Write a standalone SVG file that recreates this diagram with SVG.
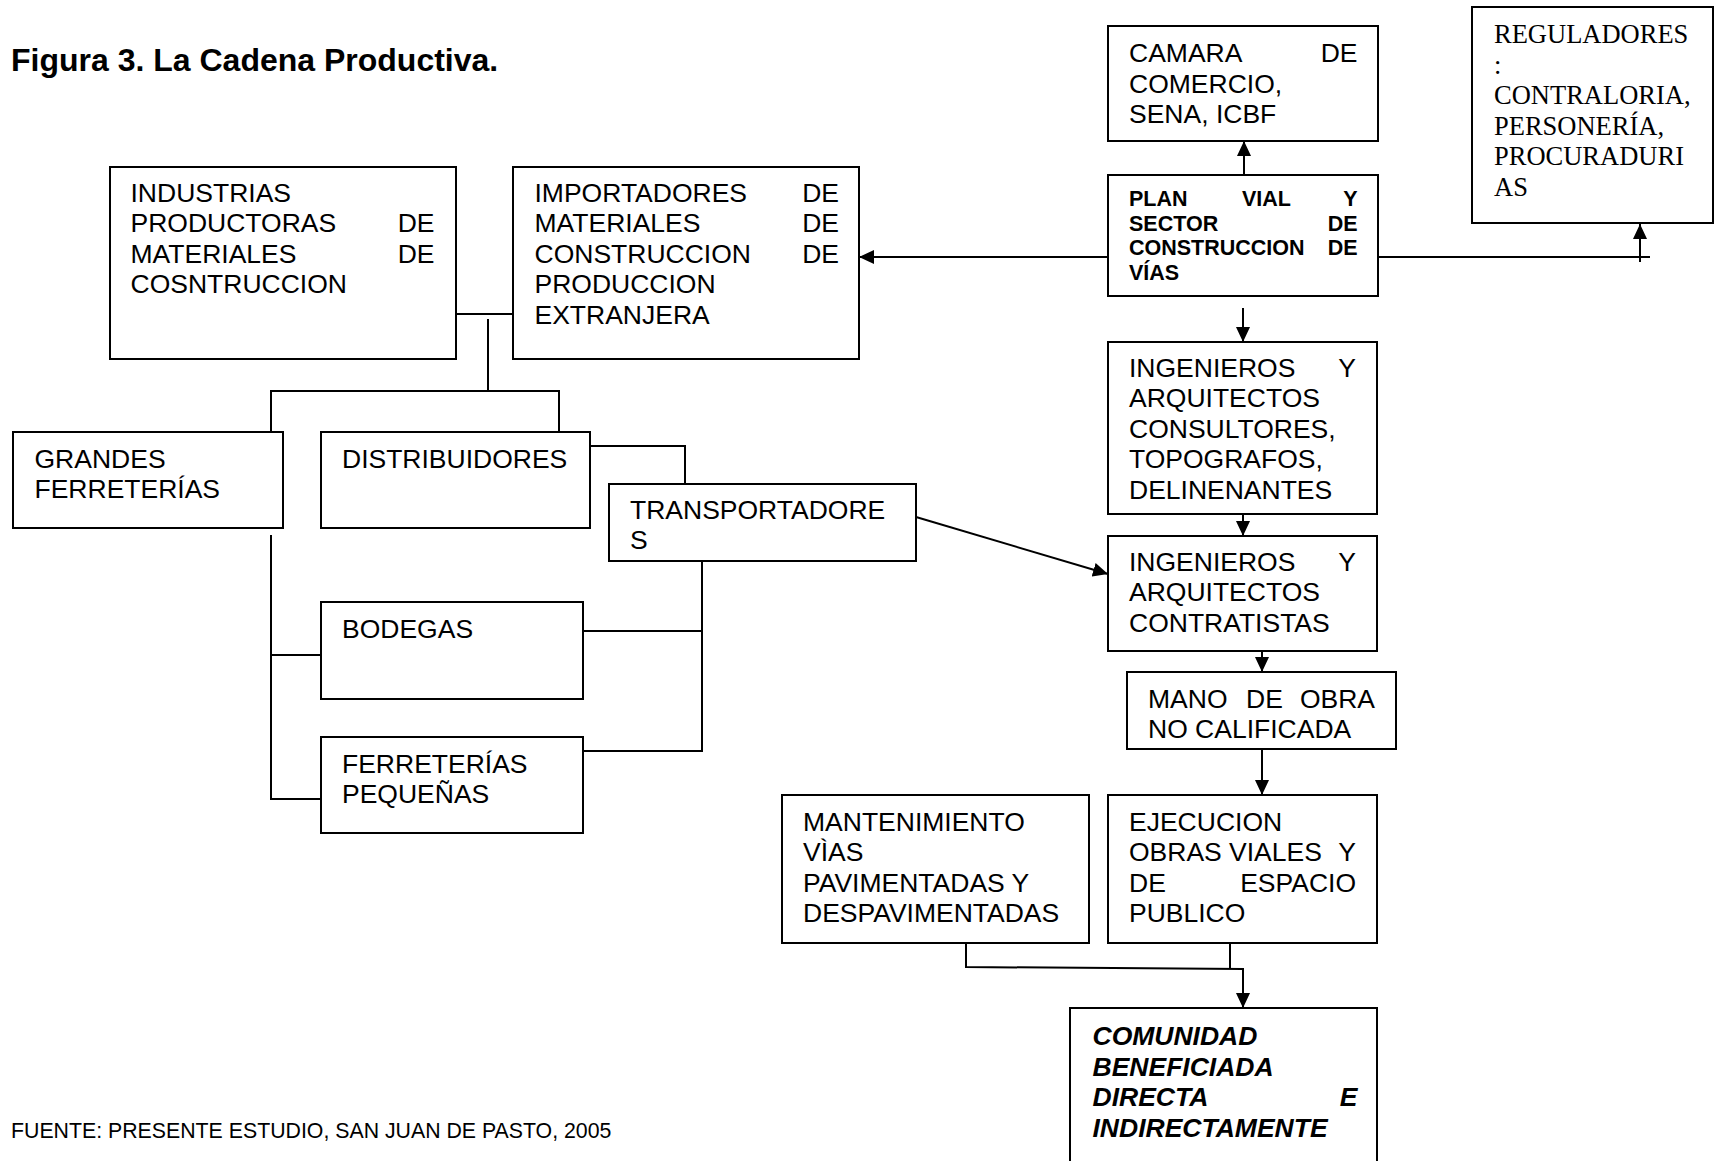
<svg xmlns="http://www.w3.org/2000/svg" width="1719" height="1161" viewBox="0 0 1719 1161">
  <style>
    .box { fill: #ffffff; stroke: #000000; stroke-width: 2; }
    .ln { fill: none; stroke: #000000; stroke-width: 2; }
    .t { font-family: "Liberation Sans", Arial, sans-serif; font-size: 26.5px; fill: #000000; }
    .tr { font-family: "Liberation Sans", Arial, sans-serif; font-size: 26.5px; fill: #000000; text-anchor: end; }
    .serif { font-family: "Liberation Serif", "Times New Roman", serif; font-size: 26.5px; fill: #000000; }
    .b { font-family: "Liberation Sans", Arial, sans-serif; font-size: 21.5px; font-weight: bold; fill: #000000; }
    .bi { font-family: "Liberation Sans", Arial, sans-serif; font-size: 26.5px; font-weight: bold; font-style: italic; fill: #000000; }
    .title { font-family: "Liberation Sans", Arial, sans-serif; font-size: 32px; font-weight: bold; fill: #000000; }
    .foot { font-family: "Liberation Sans", Arial, sans-serif; font-size: 21.3px; fill: #000000; }
  </style>
  <defs>
    <marker id="arrow" viewBox="0 0 15 14" refX="15" refY="7" markerWidth="15" markerHeight="14" markerUnits="userSpaceOnUse" orient="auto">
      <path d="M0,0 L15,7 L0,14 z" fill="#000000"/>
    </marker>
  </defs>

  <rect x="0" y="0" width="1719" height="1161" fill="#ffffff"/>

  <text class="title" x="11" y="71">Figura 3. La Cadena Productiva.</text>

  <!-- connectors -->
  <g id="connectors">
    <!-- industrias / importadores to the distribution tree -->
    <line class="ln" x1="456" y1="314" x2="513" y2="314"/>
    <line class="ln" x1="488" y1="319" x2="488" y2="391"/>
    <polyline class="ln" points="271,432 271,391 559,391 559,432"/>
    <!-- distribuidores to transportadores -->
    <polyline class="ln" points="590,446 685,446 685,484"/>
    <!-- transportadores to bodegas and ferreterias pequenas -->
    <polyline class="ln" points="702,561 702,751 583,751"/>
    <line class="ln" x1="583" y1="631" x2="702" y2="631"/>
    <!-- grandes ferreterias branch -->
    <polyline class="ln" points="271,535 271,799 321,799"/>
    <line class="ln" x1="271" y1="655" x2="321" y2="655"/>
    <!-- plan vial outward arrows -->
    <line class="ln" x1="1244" y1="175" x2="1244" y2="141" marker-end="url(#arrow)"/>
    <line class="ln" x1="1108" y1="257" x2="859" y2="257" marker-end="url(#arrow)"/>
    <line class="ln" x1="1378" y1="257" x2="1650" y2="257"/>
    <line class="ln" x1="1640" y1="262" x2="1640" y2="224" marker-end="url(#arrow)"/>
    <line class="ln" x1="1243" y1="308" x2="1243" y2="342" marker-end="url(#arrow)"/>
    <!-- engineering chain -->
    <line class="ln" x1="1243" y1="514" x2="1243" y2="536" marker-end="url(#arrow)"/>
    <line class="ln" x1="916" y1="517" x2="1108" y2="574" marker-end="url(#arrow)"/>
    <line class="ln" x1="1262" y1="639" x2="1262" y2="672" marker-end="url(#arrow)"/>
    <line class="ln" x1="1262" y1="743" x2="1262" y2="795" marker-end="url(#arrow)"/>
    <!-- works to community -->
    <polyline class="ln" points="966,943 966,967 1243,969 1243,1008" marker-end="url(#arrow)"/>
    <line class="ln" x1="1230" y1="943" x2="1230" y2="968"/>
  </g>

  <g id="industrias">
    <rect class="box" x="110" y="167" width="346" height="192"/>
    <text class="t" x="130.5" y="201.5">INDUSTRIAS</text>
    <text class="t" x="130.5" y="232">PRODUCTORAS</text>
    <text class="tr" x="434.5" y="232">DE</text>
    <text class="t" x="130.5" y="262.5">MATERIALES</text>
    <text class="tr" x="434.5" y="262.5">DE</text>
    <text class="t" x="130.5" y="293">COSNTRUCCION</text>
  </g>

  <g id="importadores">
    <rect class="box" x="513" y="167" width="346" height="192"/>
    <text class="t" x="534.5" y="201.5">IMPORTADORES</text>
    <text class="tr" x="839" y="201.5">DE</text>
    <text class="t" x="534.5" y="232">MATERIALES</text>
    <text class="tr" x="839" y="232">DE</text>
    <text class="t" x="534.5" y="262.5">CONSTRUCCION</text>
    <text class="tr" x="839" y="262.5">DE</text>
    <text class="t" x="534.5" y="293">PRODUCCION</text>
    <text class="t" x="534.5" y="323.5">EXTRANJERA</text>
  </g>

  <g id="camara">
    <rect class="box" x="1108" y="26" width="270" height="115"/>
    <text class="t" x="1129" y="62">CAMARA</text>
    <text class="tr" x="1357.5" y="62">DE</text>
    <text class="t" x="1129" y="92.5">COMERCIO,</text>
    <text class="t" x="1129" y="123">SENA, ICBF</text>
  </g>

  <g id="plan-vial">
    <rect class="box" x="1108" y="175" width="270" height="121"/>
    <text class="b" x="1129" y="206">PLAN</text>
    <text class="b" x="1242" y="206">VIAL</text>
    <text class="b" x="1357.5" y="206" text-anchor="end">Y</text>
    <text class="b" x="1129" y="230.5">SECTOR</text>
    <text class="b" x="1357.5" y="230.5" text-anchor="end">DE</text>
    <text class="b" x="1129" y="255">CONSTRUCCION</text>
    <text class="b" x="1357.5" y="255" text-anchor="end">DE</text>
    <text class="b" x="1129" y="279.5">VÍAS</text>
  </g>

  <g id="reguladores">
    <rect class="box" x="1472" y="7" width="241" height="216"/>
    <text class="serif" x="1494" y="43">REGULADORES</text>
    <text class="serif" x="1494" y="73.5">:</text>
    <text class="serif" x="1494" y="104">CONTRALORIA,</text>
    <text class="serif" x="1494" y="134.5">PERSONERÍA,</text>
    <text class="serif" x="1494" y="165">PROCURADURI</text>
    <text class="serif" x="1494" y="195.5">AS</text>
  </g>

  <g id="grandes-ferreterias">
    <rect class="box" x="13" y="432" width="270" height="96"/>
    <text class="t" x="34.5" y="467.5">GRANDES</text>
    <text class="t" x="34.5" y="498">FERRETERÍAS</text>
  </g>

  <g id="distribuidores">
    <rect class="box" x="321" y="432" width="269" height="96"/>
    <text class="t" x="342" y="467.5">DISTRIBUIDORES</text>
  </g>

  <g id="transportadores">
    <rect class="box" x="609" y="484" width="307" height="77"/>
    <text class="t" x="630" y="518.5">TRANSPORTADORE</text>
    <text class="t" x="630" y="549">S</text>
  </g>

  <g id="bodegas">
    <rect class="box" x="321" y="602" width="262" height="97"/>
    <text class="t" x="342" y="638">BODEGAS</text>
  </g>

  <g id="ferreterias-pequenas">
    <rect class="box" x="321" y="737" width="262" height="96"/>
    <text class="t" x="342" y="772.5">FERRETERÍAS</text>
    <text class="t" x="342" y="803">PEQUEÑAS</text>
  </g>

  <g id="ingenieros-consultores">
    <rect class="box" x="1108" y="342" width="269" height="172"/>
    <text class="t" x="1129" y="376.5">INGENIEROS</text>
    <text class="tr" x="1356" y="376.5">Y</text>
    <text class="t" x="1129" y="407">ARQUITECTOS</text>
    <text class="t" x="1129" y="437.5">CONSULTORES,</text>
    <text class="t" x="1129" y="468">TOPOGRAFOS,</text>
    <text class="t" x="1129" y="498.5">DELINENANTES</text>
  </g>

  <g id="ingenieros-contratistas">
    <rect class="box" x="1108" y="536" width="269" height="115"/>
    <text class="t" x="1129" y="570.5">INGENIEROS</text>
    <text class="tr" x="1356" y="570.5">Y</text>
    <text class="t" x="1129" y="601">ARQUITECTOS</text>
    <text class="t" x="1129" y="631.5">CONTRATISTAS</text>
  </g>

  <g id="mano-de-obra">
    <rect class="box" x="1127" y="672" width="269" height="77"/>
    <text class="t" x="1148" y="707.5">MANO</text>
    <text class="t" x="1246" y="707.5">DE</text>
    <text class="tr" x="1375" y="707.5">OBRA</text>
    <text class="t" x="1148" y="738">NO CALIFICADA</text>
  </g>

  <g id="mantenimiento">
    <rect class="box" x="782" y="795" width="307" height="148"/>
    <text class="t" x="803" y="830.5">MANTENIMIENTO</text>
    <text class="t" x="803" y="861">VÌAS</text>
    <text class="t" x="803" y="891.5">PAVIMENTADAS Y</text>
    <text class="t" x="803" y="922">DESPAVIMENTADAS</text>
  </g>

  <g id="ejecucion">
    <rect class="box" x="1108" y="795" width="269" height="148"/>
    <text class="t" x="1129" y="830.5">EJECUCION</text>
    <text class="t" x="1129" y="861">OBRAS</text>
    <text class="t" x="1229" y="861">VIALES</text>
    <text class="tr" x="1356" y="861">Y</text>
    <text class="t" x="1129" y="891.5">DE</text>
    <text class="tr" x="1356" y="891.5">ESPACIO</text>
    <text class="t" x="1129" y="922">PUBLICO</text>
  </g>

  <g id="comunidad">
    <rect class="box" x="1070" y="1008" width="307" height="170"/>
    <text class="bi" x="1092.5" y="1045">COMUNIDAD</text>
    <text class="bi" x="1092.5" y="1075.5">BENEFICIADA</text>
    <text class="bi" x="1092.5" y="1106">DIRECTA</text>
    <text class="bi" x="1357.5" y="1106" text-anchor="end">E</text>
    <text class="bi" x="1092.5" y="1136.5">INDIRECTAMENTE</text>
  </g>

  <text class="foot" x="11" y="1138">FUENTE: PRESENTE ESTUDIO, SAN JUAN DE PASTO, 2005</text>
</svg>
